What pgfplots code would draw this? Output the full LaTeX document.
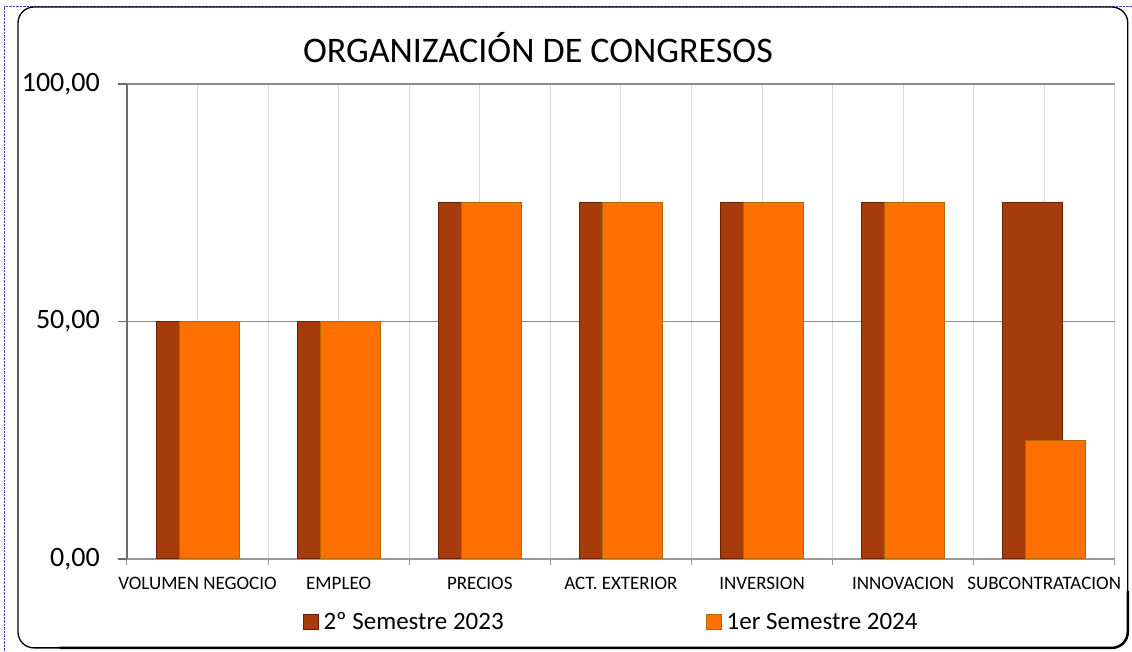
\documentclass[border=0pt]{standalone}
\usepackage{pgfplots}
\pgfplotsset{compat=1.18}
\usepackage{fontspec}
\setmainfont{Carlito}

\definecolor{darkbar}{RGB}{165,60,10}
\definecolor{darkbaredge}{RGB}{110,32,5}
\definecolor{orangebar}{RGB}{255,112,0}
\definecolor{orangebaredge}{RGB}{175,105,0}

\pgfplotstableread{
x  s2023  s2024
0  50     50
1  50     50
2  75     75
3  75     75
4  75     75
5  75     75
6  75     25
}\congresos

\begin{document}
\begin{tikzpicture}[x=1pt,y=1pt]
  \path (0,0) rectangle (1132,651);
  \draw[densely dotted, blue!45!gray] (4,0) -- (4,645) -- (1132,645);
  \draw[black, line width=1.3pt, rounded corners=16pt] (18,3) rectangle (1128,644);
  \draw[black, line width=2.5pt, rounded corners=16pt] (1128,60) -- (1128,3) -- (60,3);

  \begin{axis}[
    at={(127pt,92pt)}, anchor=south west,
    scale only axis, width=988pt, height=475pt,
    xmin=-0.5, xmax=6.5, ymin=0, ymax=100,
    ybar, bar width=0.425,
    axis x line*=bottom, axis y line*=left,
    axis line style={-},
    x axis line style={draw=gray!80, line width=1.3pt},
    y axis line style={draw=gray!85!black, line width=2pt},
    tick align=outside,
    xtick={0,...,6},
    xticklabels={VOLUMEN NEGOCIO, EMPLEO, PRECIOS, ACT. EXTERIOR, INVERSION, INNOVACION, SUBCONTRATACION},
    minor xtick={-0.5,0.5,...,6.5},
    major x tick style={draw=none},
    minor x tick style={draw=gray!80, line width=1pt},
    minor tick length=6pt,
    xmajorgrids, xminorgrids,
    major x grid style={draw=gray!30, line width=1pt},
    minor x grid style={draw=gray!30, line width=1pt},
    ytick={0,50,100},
    major tick length=9pt,
    y tick style={draw=gray!85!black, line width=1.3pt},
    ymajorgrids,
    major y grid style={draw=gray!90, line width=1.3pt},
    xticklabel style={font=\fontsize{19}{22}\selectfont, inner sep=0pt, anchor=base, yshift=-22pt},
    yticklabel style={font=\fontsize{28}{32}\selectfont, inner sep=0pt, anchor=east, xshift=-18pt},
    /pgf/number format/assume math mode=true,
    /pgf/number format/.cd, fixed, fixed zerofill, precision=2, use comma, 1000 sep={},
    /pgfplots/.cd,
    title={ORGANIZACIÓN DE CONGRESOS},
    title style={font=\fontsize{36}{42}\selectfont, inner sep=0pt, anchor=base,
      at={(axis description cs:0.416,1)}, yshift=15pt},
    legend columns=2,
    legend image code/.code={\draw[#1] (0pt,-7.5pt) rectangle (15pt,7.5pt);},
    legend style={draw=none, fill=none, inner sep=0pt,
      font=\fontsize{25}{30}\selectfont,
      at={(axis description cs:0.178,-0.1326)}, anchor=west,
      nodes={inner xsep=4.5pt, inner ysep=0pt},
      /tikz/every even column/.append style={column sep=198pt}},
  ]
    \addplot[bar shift=-0.0815, fill=darkbar, draw=darkbaredge, line width=1pt]
      table[x=x, y=s2023] {\congresos};
    \addlegendentry{2º Semestre 2023}
    \addplot[bar shift=0.0815, fill=orangebar, draw=orangebaredge, line width=1pt]
      table[x=x, y=s2024] {\congresos};
    \addlegendentry{1er Semestre 2024}
  \end{axis}
\end{tikzpicture}
\end{document}
